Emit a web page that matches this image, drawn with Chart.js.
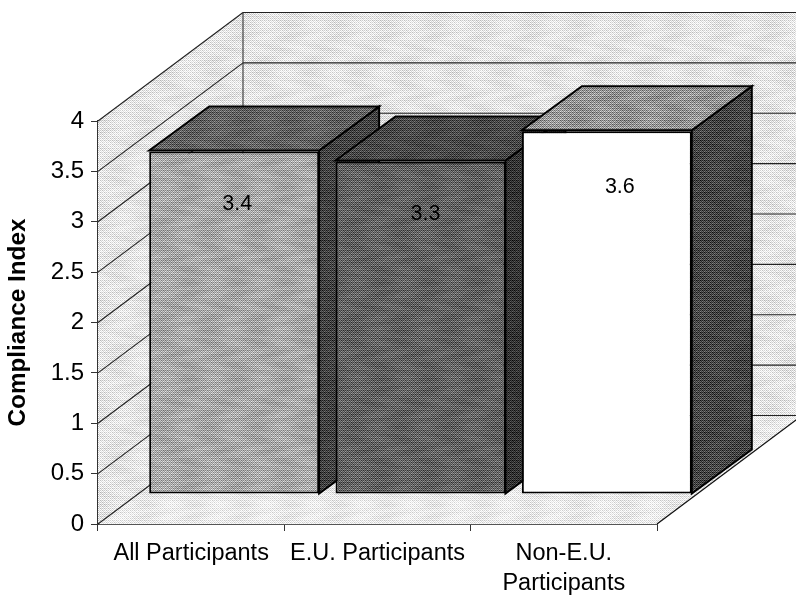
<!DOCTYPE html>
<html><head><meta charset="utf-8">
<style>html,body{margin:0;padding:0;background:#fff}canvas{display:block}</style>
<script src="https://cdn.jsdelivr.net/npm/chart.js@4"></script>
</head><body><canvas id="c" width="796" height="595"></canvas>
<script>
const categories = ["All Participants", "E.U. Participants", ["Non-E.U.", "Participants"]];
const values = [3.4, 3.3, 3.6];
const yTicks = [0, 0.5, 1, 1.5, 2, 2.5, 3, 3.5, 4];
const axisTitle = "Compliance Index";
const labelNudgeX = [3, 5, 13];
const labelNudgeY = [0, 0, 3];

const FONT = '"Liberation Sans", Arial, sans-serif';
const WALL = {dx: 145, dy: -108.5};      // depth of the whole plot box
const BARPOS = {dx: 43, dy: -30};        // bar front plane inside the box
const BARD = {dx: 60, dy: -44};          // depth of each bar

const B = [[0,32,8,40,2,34,10,42],[48,16,56,24,50,18,58,26],[12,44,4,36,14,46,6,38],[60,28,52,20,62,30,54,22],
           [3,35,11,43,1,33,9,41],[51,19,59,27,49,17,57,25],[15,47,7,39,13,45,5,37],[63,31,55,23,61,29,53,21]];
function halftone(gray, contrast, mottle){
  const S = 96, t = document.createElement('canvas'); t.width = t.height = S;
  const g = t.getContext('2d'), im = g.createImageData(S, S);
  for (let y = 0; y < S; y++) for (let x = 0; x < S; x++){
    const m = mottle * Math.sin(2*Math.PI*x/48 + 2*Math.sin(2*Math.PI*y/32)) * Math.cos(2*Math.PI*y/24);
    const v = Math.max(0, Math.min(255, gray + m + contrast * (B[y%8][x%8]/63 - .5) * 2));
    const i = (y*S + x)*4;
    im.data[i] = im.data[i+1] = im.data[i+2] = v; im.data[i+3] = 255;
  }
  g.putImageData(im, 0, 0);
  return document.createElement('canvas').getContext('2d').createPattern(t, 'repeat');
}
const pWall = halftone(230, 45, 10), pFloor = halftone(236, 40, 10);
const pFront = [halftone(168, 60, 10), halftone(98, 60, 8), '#ffffff'];
const pTop = [halftone(98, 60, 8), halftone(74, 55, 6), halftone(148, 70, 12)];
const pSide = [halftone(66, 55, 5), halftone(52, 48, 5), halftone(70, 60, 6)];

function poly(ctx, pts, fill, stroke, lw){
  ctx.beginPath();
  pts.forEach((p, i) => i ? ctx.lineTo(p[0], p[1]) : ctx.moveTo(p[0], p[1]));
  ctx.closePath();
  if (fill){ ctx.fillStyle = fill; ctx.fill(); }
  if (stroke){ ctx.strokeStyle = stroke; ctx.lineWidth = lw; ctx.lineJoin = 'miter'; ctx.stroke(); }
}
function seg(ctx, x1, y1, x2, y2, c, lw){
  ctx.beginPath(); ctx.moveTo(x1, y1); ctx.lineTo(x2, y2);
  ctx.strokeStyle = c; ctx.lineWidth = lw; ctx.stroke();
}

const box3d = {
  id: 'box3d',
  beforeDatasetsDraw(chart){
    const {ctx, chartArea: a, scales: {y}} = chart;
    const L = a.left, R = a.right, T = a.top, Bt = a.bottom, dx = WALL.dx, dy = WALL.dy;
    ctx.save();
    poly(ctx, [[L+dx,T+dy],[R+dx,T+dy],[R+dx,Bt+dy],[L+dx,Bt+dy]], pWall);
    poly(ctx, [[L,T],[L+dx,T+dy],[L+dx,Bt+dy],[L,Bt]], pWall);
    poly(ctx, [[L,Bt],[R,Bt],[R+dx,Bt+dy],[L+dx,Bt+dy]], pFloor);
    yTicks.forEach(v => {
      const p = y.getPixelForValue(v);
      seg(ctx, L, p, L+dx, p+dy, '#222', 1.1);
      seg(ctx, L+dx, p+dy, R+dx, p+dy, '#222', 1.1);
    });
    seg(ctx, L+dx, T+dy, L+dx, Bt+dy, '#333', 1.1);
    seg(ctx, R, Bt, R+dx, Bt+dy, '#111', 1.3);
    // side and top faces, left to right
    chart.getDatasetMeta(0).data.forEach((b, i) => {
      const l = b.x - b.width/2 + BARPOS.dx, r = b.x + b.width/2 + BARPOS.dx;
      const t = b.y + BARPOS.dy - 1, bo = b.base + BARPOS.dy;
      poly(ctx, [[r,t],[r+BARD.dx,t+BARD.dy],[r+BARD.dx,bo+BARD.dy],[r,bo]], pSide[i], '#000', 2);
      poly(ctx, [[l,t],[l+BARD.dx,t+BARD.dy],[r+BARD.dx,t+BARD.dy],[r,t]], pTop[i], '#000', 2);
    });
    ctx.restore();
    ctx.save();
    ctx.translate(BARPOS.dx, BARPOS.dy);   // bars stand in from the front plane
  },
  afterDatasetsDraw(chart){
    const {ctx} = chart;
    ctx.restore();
    ctx.save();
    ctx.fillStyle = '#000'; ctx.font = '21.5px ' + FONT;
    ctx.textAlign = 'center'; ctx.textBaseline = 'middle';
    chart.getDatasetMeta(0).data.forEach((b, i) => {
      ctx.fillText(String(values[i]), b.x + BARPOS.dx + labelNudgeX[i], b.y + BARPOS.dy + 53 + labelNudgeY[i]);
    });
    ctx.restore();
  }
};

new Chart(document.getElementById('c'), {
  type: 'bar',
  data: {labels: categories, datasets: [{
    data: values, backgroundColor: pFront, borderColor: '#000', borderWidth: 2, borderSkipped: false,
    barPercentage: .912, categoryPercentage: 1, clip: false
  }]},
  plugins: [box3d],
  options: {
    responsive: false, animation: false,
    layout: {padding: {top: 121, right: 139, left: 0, bottom: 0}},
    plugins: {legend: {display: false}, tooltip: {enabled: false}},
    scales: {
      x: {
        offset: true,
        afterFit(s){ s.height = 71; },
        grid: {drawOnChartArea: false, drawTicks: true, tickLength: 7, color: '#333', offset: true},
        border: {display: true, color: '#555', width: 2},
        ticks: {color: '#000', font: {family: FONT, size: 23.5, lineHeight: 1.27}, maxRotation: 0, autoSkip: false, padding: 8}
      },
      y: {
        min: 0, max: 4,
        afterFit(s){ s.width = 98; },
        afterBuildTicks(s){ s.ticks = yTicks.map(v => ({value: v})); },
        grid: {drawOnChartArea: false, drawTicks: true, tickLength: 7, color: '#333'},
        border: {display: true, color: '#333', width: 1.5},
        title: {display: true, text: axisTitle, color: '#000', font: {family: FONT, size: 24.3, weight: 'bold'}, padding: {top: 4, bottom: 0}},
        ticks: {color: '#000', font: {family: FONT, size: 24}, padding: 7, callback: v => String(v)}
      }
    }
  }
});
</script></body></html>
